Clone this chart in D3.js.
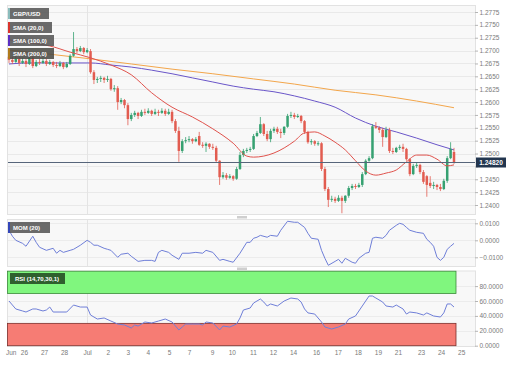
<!DOCTYPE html>
<html lang="en">
<head>
<meta charset="UTF-8" />
<title>GBP/USD 4h</title>
<script src="https://d3js.org/d3.v7.min.js"></script>
<style>
  body { margin: 0; background: #fff; }
  svg text { font-family: "Liberation Sans", Arial, sans-serif; }
</style>
</head>
<body>
<div id="chart"></div>
<script>
// ----------- Data (4h candles, Jun 25 - Jul 24) ----------- //
var opens = [
  1.2688, 1.2682, 1.2678, 1.2684, 1.2676, 1.2680, 1.2674, 1.2686, 1.2670, 1.2678,
  1.2676, 1.2680, 1.2674, 1.2678, 1.2672, 1.2670, 1.2676, 1.2668, 1.2674, 1.2690,
  1.2703, 1.2699, 1.2705, 1.2697, 1.2699, 1.2658, 1.2643, 1.2645, 1.2647, 1.2643,
  1.2645, 1.2625, 1.2627, 1.2600, 1.2604, 1.2594, 1.2567, 1.2575, 1.2579, 1.2573,
  1.2581, 1.2579, 1.2583, 1.2577, 1.2581, 1.2579, 1.2583, 1.2577, 1.2581, 1.2563,
  1.2544, 1.2505, 1.2524, 1.2526, 1.2528, 1.2524, 1.2534, 1.2517, 1.2515, 1.2519,
  1.2513, 1.2511, 1.2486, 1.2454, 1.2458, 1.2453, 1.2456, 1.2451, 1.2470, 1.2497,
  1.2505, 1.2507, 1.2509, 1.2534, 1.2540, 1.2557, 1.2538, 1.2528, 1.2544, 1.2548,
  1.2542, 1.2540, 1.2552, 1.2573, 1.2575, 1.2571, 1.2573, 1.2563, 1.2542, 1.2522,
  1.2524, 1.2519, 1.2520, 1.2470, 1.2431, 1.2410, 1.2412, 1.2408, 1.2414, 1.2408,
  1.2418, 1.2433, 1.2437, 1.2435, 1.2439, 1.2460, 1.2486, 1.2491, 1.2553, 1.2550,
  1.2546, 1.2532, 1.2546, 1.2505, 1.2503, 1.2511, 1.2513, 1.2509, 1.2489, 1.2460,
  1.2476, 1.2478, 1.2464, 1.2456, 1.2443, 1.2437, 1.2439, 1.2435, 1.2431, 1.2447,
  1.2491, 1.2503
];
var highs = [
  1.2691, 1.2688, 1.2690, 1.2688, 1.2686, 1.2684, 1.2691, 1.2690, 1.2682, 1.2684,
  1.2686, 1.2684, 1.2682, 1.2680, 1.2678, 1.2680, 1.2678, 1.2678, 1.2693, 1.2736,
  1.2707, 1.2709, 1.2707, 1.2705, 1.2703, 1.2662, 1.2649, 1.2651, 1.2649, 1.2651,
  1.2647, 1.2633, 1.2631, 1.2608, 1.2606, 1.2598, 1.2579, 1.2583, 1.2581, 1.2585,
  1.2587, 1.2588, 1.2585, 1.2587, 1.2585, 1.2588, 1.2587, 1.2587, 1.2585, 1.2567,
  1.2552, 1.2528, 1.2532, 1.2534, 1.2530, 1.2532, 1.2542, 1.2522, 1.2522, 1.2520,
  1.2519, 1.2515, 1.2487, 1.2464, 1.2462, 1.2460, 1.2458, 1.2474, 1.2503, 1.2509,
  1.2511, 1.2513, 1.2538, 1.2544, 1.2571, 1.2559, 1.2544, 1.2548, 1.2552, 1.2552,
  1.2548, 1.2553, 1.2577, 1.2581, 1.2579, 1.2577, 1.2575, 1.2565, 1.2544, 1.2528,
  1.2526, 1.2524, 1.2522, 1.2474, 1.2435, 1.2418, 1.2416, 1.2419, 1.2418, 1.2419,
  1.2437, 1.2441, 1.2441, 1.2443, 1.2464, 1.2489, 1.2495, 1.2557, 1.2561, 1.2553,
  1.2550, 1.2552, 1.2550, 1.2511, 1.2513, 1.2517, 1.2519, 1.2511, 1.2491, 1.2480,
  1.2482, 1.2480, 1.2468, 1.2458, 1.2456, 1.2445, 1.2441, 1.2441, 1.2451, 1.2495,
  1.2522, 1.2511
];
var lows = [
  1.2676, 1.2674, 1.2676, 1.2670, 1.2674, 1.2668, 1.2672, 1.2666, 1.2668, 1.2672,
  1.2674, 1.2670, 1.2672, 1.2668, 1.2666, 1.2668, 1.2664, 1.2666, 1.2672, 1.2688,
  1.2695, 1.2697, 1.2693, 1.2695, 1.2655, 1.2635, 1.2637, 1.2639, 1.2637, 1.2639,
  1.2622, 1.2620, 1.2585, 1.2596, 1.2588, 1.2555, 1.2563, 1.2571, 1.2567, 1.2571,
  1.2575, 1.2577, 1.2573, 1.2575, 1.2573, 1.2577, 1.2573, 1.2575, 1.2559, 1.2540,
  1.2484, 1.2501, 1.2520, 1.2522, 1.2519, 1.2522, 1.2515, 1.2511, 1.2503, 1.2509,
  1.2507, 1.2482, 1.2439, 1.2451, 1.2449, 1.2451, 1.2447, 1.2449, 1.2468, 1.2493,
  1.2501, 1.2503, 1.2507, 1.2532, 1.2538, 1.2534, 1.2524, 1.2522, 1.2540, 1.2538,
  1.2530, 1.2536, 1.2550, 1.2569, 1.2567, 1.2569, 1.2559, 1.2538, 1.2519, 1.2517,
  1.2515, 1.2515, 1.2466, 1.2427, 1.2396, 1.2406, 1.2404, 1.2406, 1.2384, 1.2404,
  1.2414, 1.2429, 1.2431, 1.2433, 1.2435, 1.2458, 1.2484, 1.2489, 1.2548, 1.2540,
  1.2513, 1.2530, 1.2501, 1.2499, 1.2501, 1.2507, 1.2503, 1.2486, 1.2456, 1.2458,
  1.2472, 1.2460, 1.2441, 1.2416, 1.2433, 1.2431, 1.2429, 1.2427, 1.2429, 1.2443,
  1.2489, 1.2480
];
var closes = [
  1.2682, 1.2678, 1.2684, 1.2676, 1.2680, 1.2674, 1.2686, 1.2670, 1.2678, 1.2676,
  1.2680, 1.2674, 1.2678, 1.2672, 1.2670, 1.2676, 1.2668, 1.2674, 1.2690, 1.2703,
  1.2699, 1.2705, 1.2697, 1.2701, 1.2658, 1.2643, 1.2645, 1.2647, 1.2643, 1.2645,
  1.2625, 1.2627, 1.2600, 1.2604, 1.2594, 1.2567, 1.2575, 1.2579, 1.2573, 1.2581,
  1.2579, 1.2583, 1.2577, 1.2581, 1.2579, 1.2583, 1.2577, 1.2581, 1.2563, 1.2544,
  1.2505, 1.2524, 1.2526, 1.2528, 1.2524, 1.2528, 1.2517, 1.2515, 1.2519, 1.2513,
  1.2511, 1.2486, 1.2454, 1.2458, 1.2453, 1.2456, 1.2451, 1.2470, 1.2497, 1.2505,
  1.2507, 1.2509, 1.2534, 1.2540, 1.2557, 1.2538, 1.2528, 1.2544, 1.2548, 1.2542,
  1.2540, 1.2552, 1.2573, 1.2575, 1.2571, 1.2573, 1.2563, 1.2542, 1.2522, 1.2524,
  1.2519, 1.2520, 1.2470, 1.2431, 1.2410, 1.2412, 1.2408, 1.2414, 1.2408, 1.2418,
  1.2433, 1.2437, 1.2435, 1.2439, 1.2460, 1.2486, 1.2491, 1.2553, 1.2550, 1.2546,
  1.2532, 1.2546, 1.2505, 1.2503, 1.2511, 1.2513, 1.2509, 1.2489, 1.2460, 1.2476,
  1.2478, 1.2464, 1.2445, 1.2439, 1.2437, 1.2439, 1.2435, 1.2431, 1.2447, 1.2491,
  1.2509, 1.2482
];
var lastPrice = 1.24820;

// moving averages, read at candle positions
var sma20Idx = [0, 6, 12, 18, 24, 30, 36, 42, 48, 54, 60, 66, 70, 72, 78, 84, 87, 90, 93, 96, 99, 102, 105, 108, 111, 114, 117, 120, 123, 126, 129, 131];
var sma20 = [1.2721, 1.2715, 1.2709, 1.2697, 1.2686, 1.2672, 1.2653, 1.2618, 1.2590, 1.2571, 1.2548, 1.2520, 1.2495, 1.2493, 1.2501, 1.2524, 1.2540, 1.2542, 1.2534, 1.2522, 1.2507, 1.2486, 1.2466, 1.2458, 1.2462, 1.2468, 1.2484, 1.2497, 1.2497, 1.2489, 1.2476, 1.2478];
var sma100Idx = [0, 6, 12, 18, 24, 30, 36, 42, 48, 54, 60, 66, 72, 78, 84, 90, 96, 102, 108, 114, 120, 126, 131];
var sma100 = [1.2674, 1.2676, 1.2676, 1.2676, 1.2676, 1.2672, 1.2668, 1.2662, 1.2655, 1.2647, 1.2639, 1.2631, 1.2625, 1.2620, 1.2612, 1.2602, 1.2590, 1.2569, 1.2553, 1.2542, 1.2530, 1.2517, 1.2507];
var sma200Idx = [0, 12, 24, 36, 48, 60, 72, 84, 96, 108, 120, 131];
var sma200 = [1.2701, 1.2693, 1.2684, 1.2674, 1.2664, 1.2655, 1.2645, 1.2635, 1.2623, 1.2614, 1.2602, 1.2589];

// momentum (20)
var momIdx = [0, 1, 2, 4, 5, 7, 8, 9, 11, 13, 14, 15, 16, 18, 19, 21, 23, 24, 25, 26, 28, 29, 30, 32, 33, 35, 36, 38, 40, 42, 43, 44, 45, 47, 48, 50, 51, 53, 55, 57, 58, 60, 62, 63, 65, 66, 68, 70, 71, 72, 73, 74, 76, 77, 79, 80, 82, 84, 85, 87, 88, 89, 91, 92, 93, 94, 96, 97, 98, 99, 101, 102, 103, 105, 106, 107, 108, 110, 111, 112, 114, 115, 116, 117, 118, 120, 122, 123, 124, 125, 126, 127, 128, 129, 130, 131];
var momVals = [0.0059, 0.0024, 0.0000, -0.0018, -0.0035, 0.0024, -0.0012, -0.0041, -0.0059, -0.0047, -0.0076, -0.0059, -0.0071, -0.0059, -0.0053, -0.0029, 0.0000, -0.0012, -0.0029, -0.0029, -0.0047, -0.0053, -0.0059, -0.0100, -0.0082, -0.0076, -0.0094, -0.0124, -0.0118, -0.0118, -0.0124, -0.0071, -0.0059, -0.0071, -0.0088, -0.0112, -0.0076, -0.0076, -0.0071, -0.0076, -0.0059, -0.0071, -0.0118, -0.0112, -0.0124, -0.0129, -0.0076, -0.0012, -0.0012, 0.0012, 0.0018, 0.0029, 0.0018, 0.0029, 0.0024, 0.0059, 0.0112, 0.0106, 0.0106, 0.0076, 0.0041, 0.0012, 0.0006, -0.0059, -0.0106, -0.0147, -0.0124, -0.0112, -0.0135, -0.0106, -0.0129, -0.0135, -0.0106, -0.0076, -0.0071, 0.0012, 0.0018, 0.0012, 0.0029, 0.0059, 0.0088, 0.0100, 0.0094, 0.0076, 0.0059, 0.0047, 0.0041, 0.0006, -0.0012, -0.0035, -0.0100, -0.0118, -0.0100, -0.0053, -0.0035, -0.0018];

// RSI (14)
var rsiIdx = [0, 1, 2, 4, 5, 7, 8, 10, 11, 12, 13, 15, 17, 19, 21, 23, 24, 26, 28, 30, 32, 34, 36, 37, 38, 40, 42, 44, 46, 48, 50, 51, 52, 54, 56, 57, 58, 60, 62, 63, 65, 67, 68, 69, 71, 72, 74, 75, 76, 77, 79, 81, 83, 85, 86, 87, 88, 90, 92, 93, 95, 97, 99, 100, 102, 104, 106, 107, 108, 110, 111, 113, 114, 116, 117, 118, 120, 122, 123, 125, 127, 128, 129, 130, 131];
var rsiVals = [60.0, 54.6, 49.3, 46.6, 45.2, 49.3, 49.3, 46.6, 47.9, 51.9, 45.2, 45.2, 45.2, 54.6, 51.9, 51.9, 41.2, 35.8, 37.2, 33.1, 29.1, 27.8, 23.8, 27.8, 26.4, 31.8, 30.5, 33.1, 35.8, 31.8, 21.1, 25.1, 29.1, 29.1, 29.1, 27.8, 31.8, 30.5, 21.1, 26.4, 25.1, 29.1, 37.2, 47.9, 50.6, 57.3, 62.7, 58.6, 53.3, 56.0, 53.3, 60.0, 64.0, 62.7, 58.6, 49.3, 44.0, 42.5, 31.8, 25.1, 22.4, 25.1, 29.1, 35.8, 39.9, 53.3, 66.7, 66.7, 64.0, 58.6, 53.3, 51.9, 54.6, 49.3, 42.5, 45.2, 44.0, 41.2, 44.0, 39.9, 38.5, 44.0, 56.0, 56.0, 51.9];

// axis ticks (1.2475 sits under the last-price tag, so only its tick mark shows)
var priceTicks = [1.2400, 1.2425, 1.2450, 1.2475, 1.2500, 1.2525, 1.2550, 1.2575, 1.2600, 1.2625, 1.2650, 1.2675, 1.2700, 1.2725, 1.2750, 1.2775];
var hiddenPriceLabel = 1.2475;
var momTicks = [0.01, 0, -0.01];
var rsiTicks = [80, 60, 40, 20, 0];
var dayLabels = ['Jun', '26', '27', '28', 'Jul', '2', '3', '4', '5', '7', '9', '10', '11', '12', '14', '16', '17', '18', '19', '21', '23', '24', '25'];
var dayIdx = [0.5, 4.4, 10.3, 16.2, 23, 29.1, 35, 40.9, 47.1, 53, 59.8, 65.6, 71.8, 77.7, 83.6, 90.4, 96.8, 102.7, 108.6, 114.5, 121.3, 127.2, 133.1];
var monthIdx = 23;

// ----------- Layout ----------- //
var width = 508, height = 366;
var left = 7, right = 475;
var mainTop = 5, mainBottom = 214;
var momTop = 219, momBottom = 266;
var rsiTop = 270.5, rsiBottom = 346;

var upColor = '#36a171', downColor = '#e25c50';
var lineBlue = '#6f7fd8';

var svg = d3.select('#chart').append('svg')
  .attr('width', width)
  .attr('height', height)
  .style('display', 'block');

var x = d3.scaleLinear().domain([0, closes.length - 1]).range([9, 454]);
var yPrice = d3.scaleLinear().domain([1.2400, 1.2775]).range([205, 12]);
var yMom = d3.scaleLinear().domain([-0.01, 0.01]).range([257.3, 223.3]);
var yRsi = d3.scaleLinear().domain([0, 100]).range([345.7, 271.2]);

// ----------- Panels ----------- //
[[mainTop, mainBottom], [momTop, momBottom], [rsiTop, rsiBottom]].forEach(function(p) {
  svg.append('rect')
    .attr('x', left + 0.5).attr('y', p[0] + 0.5)
    .attr('width', right - left).attr('height', p[1] - p[0])
    .attr('fill', '#f8f8f8')
    .attr('stroke', '#e2e2e2');
});

// horizontal grid
svg.append('g').selectAll('line').data(priceTicks).enter().append('line')
  .attr('x1', left + 1).attr('x2', right)
  .attr('y1', d => Math.round(yPrice(d)) + 0.5).attr('y2', d => Math.round(yPrice(d)) + 0.5)
  .attr('stroke', '#e9e9e9');
svg.append('g').selectAll('line').data(momTicks).enter().append('line')
  .attr('x1', left + 1).attr('x2', right)
  .attr('y1', d => Math.round(yMom(d)) + 0.5).attr('y2', d => Math.round(yMom(d)) + 0.5)
  .attr('stroke', '#ececec');
svg.append('g').selectAll('line').data(rsiTicks.slice(0, 4)).enter().append('line')
  .attr('x1', left + 1).attr('x2', right)
  .attr('y1', d => Math.round(yRsi(d)) + 0.5).attr('y2', d => Math.round(yRsi(d)) + 0.5)
  .attr('stroke', '#ececec');

// month separator
[[mainTop, mainBottom], [momTop, momBottom], [rsiTop, rsiBottom]].forEach(function(p) {
  svg.append('line')
    .attr('x1', Math.round(x(monthIdx)) + 0.5).attr('x2', Math.round(x(monthIdx)) + 0.5)
    .attr('y1', p[0] + 1).attr('y2', p[1])
    .attr('stroke', '#e4e4e4');
});

// ----------- Price: SMAs ----------- //
function smaLine(idx, vals, color) {
  var pts = idx.map((d, i) => [d, vals[i]]);
  svg.append('path')
    .datum(pts)
    .attr('fill', 'none')
    .attr('stroke', color)
    .attr('stroke-width', 1)
    .attr('d', d3.line().x(d => x(d[0])).y(d => yPrice(d[1])).curve(d3.curveMonotoneX));
}
smaLine(sma200Idx, sma200, '#f3a64b');
smaLine(sma100Idx, sma100, '#6a56c9');

// ----------- Candles ----------- //
var candles = closes.map((c, i) => ({ i: i, o: opens[i], h: highs[i], l: lows[i], c: c }));
var cg = svg.append('g');
cg.selectAll('line').data(candles).enter().append('line')
  .attr('x1', d => x(d.i)).attr('x2', d => x(d.i))
  .attr('y1', d => yPrice(d.h)).attr('y2', d => yPrice(d.l))
  .attr('stroke', d => d.c >= d.o ? upColor : downColor)
  .attr('stroke-width', 0.8);
cg.selectAll('rect').data(candles).enter().append('rect')
  .attr('x', d => x(d.i) - 1.25)
  .attr('width', 2.5)
  .attr('y', d => Math.min(yPrice(d.o), yPrice(d.c)))
  .attr('height', d => Math.max(1, Math.abs(yPrice(d.o) - yPrice(d.c))))
  .attr('fill', d => d.c >= d.o ? upColor : downColor);

smaLine(sma20Idx, sma20, '#e0524c');

// current price line
svg.append('line')
  .attr('x1', left + 1).attr('x2', right)
  .attr('y1', Math.round(yPrice(lastPrice)) - 0.5).attr('y2', Math.round(yPrice(lastPrice)) - 0.5)
  .attr('stroke', '#56657a')
  .attr('stroke-width', 1);

// ----------- Oscillators ----------- //
svg.append('path')
  .datum(momIdx.map((d, i) => [d, momVals[i]]))
  .attr('fill', 'none')
  .attr('stroke', lineBlue)
  .attr('stroke-width', 1)
  .attr('d', d3.line().x(d => x(d[0])).y(d => yMom(d[1])));

svg.append('rect')
  .attr('x', left + 0.5).attr('y', yRsi(100))
  .attr('width', x(closes.length - 1) + 1.5 - left).attr('height', yRsi(70) - yRsi(100))
  .attr('fill', '#80f67e')
  .attr('stroke', '#3b8a3b').attr('stroke-width', 0.8);
svg.append('rect')
  .attr('x', left + 0.5).attr('y', yRsi(30))
  .attr('width', x(closes.length - 1) + 1.5 - left).attr('height', yRsi(0) - yRsi(30))
  .attr('fill', '#f67c74')
  .attr('stroke', '#7c2f2b').attr('stroke-width', 0.8);

svg.append('path')
  .datum(rsiIdx.map((d, i) => [d, rsiVals[i]]))
  .attr('fill', 'none')
  .attr('stroke', lineBlue)
  .attr('stroke-width', 1)
  .attr('d', d3.line().x(d => x(d[0])).y(d => yRsi(d[1])));

// pane resize handles
[mainBottom + 2, momBottom + 1.5].forEach(function(yy) {
  svg.append('rect')
    .attr('x', 237).attr('y', yy).attr('width', 10).attr('height', 2.5)
    .attr('fill', '#cfcfcf');
});

// ----------- Axes ----------- //
function styleAxis(g) {
  g.select('.domain').remove();
  g.selectAll('.tick line').attr('stroke', '#b5b5b5');
  g.selectAll('.tick text').attr('fill', '#7a7a7a').style('font-size', '6.5px');
}
var f4 = d3.format('.4f');
svg.append('g')
  .attr('transform', 'translate(' + right + ',0)')
  .call(d3.axisRight(yPrice).tickValues(priceTicks)
    .tickFormat(d => d === hiddenPriceLabel ? '' : f4(d)).tickSize(3).tickPadding(1.5))
  .call(styleAxis);
svg.append('g')
  .attr('transform', 'translate(' + right + ',0)')
  .call(d3.axisRight(yMom).tickValues(momTicks).tickFormat(f4).tickSize(3).tickPadding(1.5))
  .call(styleAxis);
svg.append('g')
  .attr('transform', 'translate(' + right + ',0)')
  .call(d3.axisRight(yRsi).tickValues(rsiTicks).tickFormat(f4).tickSize(3).tickPadding(1.5))
  .call(styleAxis);
svg.append('g')
  .attr('transform', 'translate(0,' + rsiBottom + ')')
  .call(d3.axisBottom(x).tickValues(dayIdx).tickFormat((d, i) => dayLabels[i]).tickSize(0).tickPadding(4))
  .call(styleAxis);

// last price tag
var tagY = Math.round(yPrice(lastPrice)) - 0.5;
svg.append('rect')
  .attr('x', 476).attr('y', tagY - 5)
  .attr('width', 30).attr('height', 10)
  .attr('fill', '#23364f');
svg.append('text')
  .attr('x', 491).attr('y', tagY + 2.3)
  .attr('text-anchor', 'middle')
  .attr('fill', '#fff')
  .style('font-size', '6.5px')
  .style('font-weight', 'bold')
  .text(d3.format('.5f')(lastPrice));

// ----------- Legends ----------- //
function legend(x0, y0, w, label, strip, fill) {
  svg.append('rect')
    .attr('x', x0).attr('y', y0).attr('width', w).attr('height', 11)
    .attr('fill', fill).attr('opacity', 0.88);
  if (strip) {
    svg.append('rect')
      .attr('x', x0).attr('y', y0).attr('width', 2).attr('height', 11)
      .attr('fill', strip);
  }
  svg.append('text')
    .attr('x', x0 + 5).attr('y', y0 + 7.7)
    .attr('fill', '#fff')
    .style('font-size', '6px')
    .style('font-weight', 'bold')
    .text(label);
}
legend(8, 8, 41, 'GBP/USD', '#8bbcbc', '#555');
legend(8, 22, 44, 'SMA (20,0)', '#d9342c', '#555');
legend(8, 35, 46, 'SMA (100,0)', '#5a2fc2', '#555');
legend(8, 48, 46, 'SMA (200,0)', '#b07a1c', '#4a4a44');
legend(8, 222, 42, 'MOM (20)', '#3346b8', '#555');
legend(10, 273, 55, 'RSI (14,70,30,1)', null, '#234a23');
</script>
</body>
</html>
